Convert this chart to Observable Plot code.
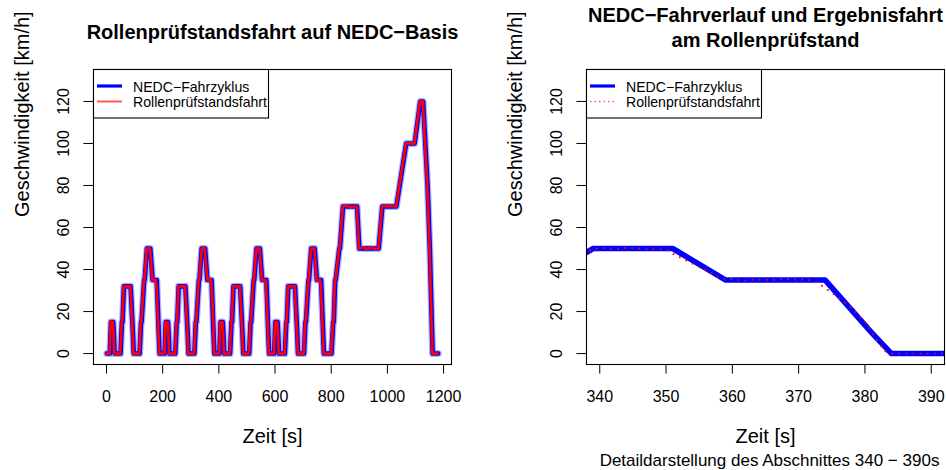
<!DOCTYPE html>
<html>
<head>
<meta charset="utf-8">
<script src="https://cdn.jsdelivr.net/npm/d3@7"></script>
<script src="https://cdn.jsdelivr.net/npm/@observablehq/plot@0.6"></script>
<style>
  body { margin: 0; background: #fff; }
  #chart { position: relative; width: 946px; height: 470px; overflow: hidden; background: #fff; }
  #chart > .panel { position: absolute; top: 0; width: 473px; height: 470px; }
  #left { left: 0; }
  #right { left: 473px; }
</style>
</head>
<body>
<div id="chart">
  <div class="panel" id="left"></div>
  <div class="panel" id="right"></div>
</div>
<script>
// NEDC target speed profile (corner points, time in s, speed in km/h):
// four ECE-15 urban cycles followed by the EUDC extra-urban part
const nedcTime = [
  1, 12, 16, 24, 26, 29, 50, 55, 57, 62, 86, 94, 97, 118, 123, 125, 134, 136, 144, 156, 164, 179, 186, 189,
  196, 207, 211, 219, 221, 224, 245, 250, 252, 257, 281, 289, 292, 313, 318, 320, 329, 331, 339, 351, 359, 374, 381, 384,
  391, 402, 406, 414, 416, 419, 440, 445, 447, 452, 476, 484, 487, 508, 513, 515, 524, 526, 534, 546, 554, 569, 576, 579,
  586, 597, 601, 609, 611, 614, 635, 640, 642, 647, 671, 679, 682, 703, 708, 710, 719, 721, 729, 741, 749, 764, 771, 774,
  781, 801, 807, 809, 814, 816, 829, 831, 842, 892, 900, 969, 982, 1032, 1067, 1097, 1117, 1127, 1143, 1151, 1161, 1181
];
const nedcSpeed = [
  0, 0, 15, 15, 10, 0, 0, 15, 15, 32, 32, 10, 0, 0, 15, 15, 35, 35, 50, 50, 35, 35, 10, 0,
  0, 0, 15, 15, 10, 0, 0, 15, 15, 32, 32, 10, 0, 0, 15, 15, 35, 35, 50, 50, 35, 35, 10, 0,
  0, 0, 15, 15, 10, 0, 0, 15, 15, 32, 32, 10, 0, 0, 15, 15, 35, 35, 50, 50, 35, 35, 10, 0,
  0, 0, 15, 15, 10, 0, 0, 15, 15, 32, 32, 10, 0, 0, 15, 15, 35, 35, 50, 50, 35, 35, 10, 0,
  0, 0, 15, 15, 35, 35, 50, 50, 70, 70, 50, 50, 70, 70, 100, 100, 120, 120, 80, 50, 0, 0
];

// Measured speed on the chassis dynamometer; 1 s samples in the 338–392 s detail window
const driveTime = [
  0, 11, 15, 23, 25, 28, 49, 54, 56, 61, 85, 93, 96, 117, 122, 124, 133, 135, 143, 155, 163, 176, 178, 185, 188,
  195, 206, 210, 218, 220, 223, 244, 249, 251, 256, 280, 288, 291, 312, 317, 319, 328, 330,
  338, 339, 340, 341, 342, 343, 344, 345, 346, 347, 348, 349, 350, 351, 352, 353, 354, 355, 356, 357, 358, 359,
  360, 361, 362, 363, 364, 365, 366, 367, 368, 369, 370, 371, 372, 373, 374, 375, 376, 377, 378, 379, 380,
  381, 382, 383, 384, 385, 386, 387, 388, 389, 390, 391, 392,
  401, 405, 413, 415, 418, 439, 444, 446, 451, 475, 483, 486, 507, 512, 514, 523, 525, 533, 545, 553, 566, 568, 575, 578,
  585, 596, 600, 608, 610, 613, 634, 639, 641, 646, 670, 678, 681, 702, 707, 709, 718, 720, 728, 740, 748, 761, 763, 770, 773,
  780, 800, 806, 808, 813, 815, 828, 830, 841, 855, 870, 891, 899, 915, 925, 940, 955, 968, 981, 1000, 1031,
  1066, 1096, 1116, 1126, 1142, 1150, 1160, 1180
];
const driveSpeed = [
  0, 0, 15.3, 15, 10, 0, 0, 15, 15.2, 32, 32, 10, 0, 0, 15, 15, 35, 35, 50, 50, 35, 35, 32, 10, 0,
  0, 0, 15, 15, 10, 0, 0, 15, 15, 32, 32, 10, 0, 0, 15, 15, 35, 35,
  48.6, 49.6, 50.1, 50.2, 50.0, 49.9, 50.3, 50.2, 50.0, 49.9, 50.0, 50.1, 49.4, 47.6, 46.0, 44.4, 42.8, 41.2, 39.6, 38.0, 36.3, 35.3,
  35.6, 35.0, 34.8, 35.1, 35.2, 35.1, 35.0, 35.2, 35.4, 35.2, 35.1, 35.2, 34.9, 33.4, 31.2, 29.0, 26.6, 24.2, 21.4, 18.4, 15.2,
  10.2, 5.4, 1.2, 0, 0, 0, 0, 0, 0, 0, 0, 0,
  0, 15, 15, 10, 0, 0, 15, 15, 32, 32, 10, 0, 0, 15, 15, 35, 35, 50, 50, 35, 35, 32, 10, 0,
  0, 0, 15, 15, 10, 0, 0, 15, 15, 32, 32, 10, 0, 0, 15, 15, 35, 35, 50, 50, 35, 35, 32, 10, 0,
  0, 0, 15, 15, 35, 35, 50, 50, 70, 70.4, 69.7, 70, 50, 50.6, 49.6, 50.4, 49.8, 50, 70, 70.3, 70,
  100, 100, 120, 120, 80, 50, 0, 0
];

// Axis ticks
const xTicksFull = [0, 200, 400, 600, 800, 1000, 1200];
const xTicksDetail = [340, 350, 360, 370, 380, 390];
const yTicks = [0, 20, 40, 60, 80, 100, 120];

// Texts
const titleFull = "Rollenprüfstandsfahrt auf NEDC−Basis";
const titleDetail = "NEDC−Fahrverlauf und Ergebnisfahrt\nam Rollenprüfstand";
const xLabel = "Zeit [s]";
const yLabel = "Geschwindigkeit [km/h]";
const subDetail = "Detaildarstellung des Abschnittes 340 − 390s";
const legendLabels = ["NEDC−Fahrzyklus", "Rollenprüfstandsfahrt"];

const nedc = nedcTime.map((t, i) => ({t, v: nedcSpeed[i]}));
const drive = driveTime.map((t, i) => ({t, v: driveSpeed[i]}));

const FONT = '"Liberation Sans", Arial, Helvetica, sans-serif';
const yDomain = [-5.2, 135.2];

function axes(xTicks) {
  return [
    Plot.frame({stroke: "black", strokeWidth: 1.1}),
    Plot.axisX({ticks: xTicks, tickSize: 9.6, tickPadding: 16.5, label: null, fontSize: 16, tickFormat: d => String(d)}),
    // y tick marks; the labels are drawn rotated, parallel to the axis
    Plot.axisY({ticks: yTicks, tickSize: 9.6, label: null, tickFormat: () => ""}),
    Plot.text(yTicks, {y: d => d, text: d => String(d), frameAnchor: "left", dx: -24.5, rotate: -90,
                       textAnchor: "middle", lineAnchor: "bottom", fontSize: 16}),
    Plot.text([xLabel], {text: d => d, frameAnchor: "bottom", dy: 78, lineAnchor: "bottom", fontSize: 20}),
    Plot.text([yLabel], {text: d => d, frameAnchor: "left", dx: -65, rotate: -90, lineAnchor: "bottom", fontSize: 20})
  ];
}

// Overview of the complete cycle
const leftPlot = Plot.plot({
  width: 473, height: 470,
  marginLeft: 93, marginRight: 22, marginTop: 69, marginBottom: 106,
  style: {fontFamily: FONT, fontSize: "16px", background: "white", color: "black", overflow: "visible"},
  x: {domain: [-46.2, 1228.2]},
  y: {domain: yDomain},
  marks: [
    Plot.line(nedc, {x: "t", y: "v", stroke: "blue", strokeWidth: 7, strokeOpacity: 0.3, clip: true}),
    Plot.line(nedc, {x: "t", y: "v", stroke: "blue", strokeWidth: 4.6, clip: true}),
    Plot.line(drive, {x: "t", y: "v", stroke: "red", strokeWidth: 2.7, clip: true}),
    ...axes(xTicksFull),
    Plot.text([titleFull], {text: d => d, frameAnchor: "top", dy: -30.7, lineAnchor: "bottom", fontSize: 20, fontWeight: "bold"})
  ]
});

// Detail of the 340–390 s section
const rightPlot = Plot.plot({
  width: 473, height: 470,
  marginLeft: 113, marginRight: 2, marginTop: 69, marginBottom: 106,
  style: {fontFamily: FONT, fontSize: "16px", background: "white", color: "black", overflow: "visible"},
  x: {domain: [338, 392]},
  y: {domain: yDomain},
  marks: [
    Plot.line(nedc, {x: "t", y: "v", stroke: "blue", strokeWidth: 5.6, clip: true}),
    Plot.line(drive, {x: "t", y: "v", stroke: "red", strokeWidth: 1.8, strokeDasharray: "1.8 5.3", strokeLinecap: "butt", clip: true}),
    ...axes(xTicksDetail),
    Plot.text([titleDetail], {text: d => d, frameAnchor: "top", dy: -22.3, lineAnchor: "bottom", lineHeight: 1.25, fontSize: 20, fontWeight: "bold"}),
    Plot.text([subDetail], {text: d => d, frameAnchor: "bottom", dx: 4, dy: 101, lineAnchor: "bottom", fontSize: 17})
  ]
});

document.getElementById("left").appendChild(leftPlot);
document.getElementById("right").appendChild(rightPlot);

// Legend box in the top-left corner of each panel
function legend(svg, x0, redStyle) {
  const g = d3.select(svg).append("g")
    .attr("font-family", FONT).attr("font-size", 14.1).attr("text-anchor", "start");
  g.append("rect").attr("x", x0 + 0.5).attr("y", 69.5).attr("width", 175).attr("height", 48.5)
    .attr("fill", "white").attr("stroke", "black").attr("stroke-width", 1.1);
  g.append("line").attr("x1", x0 + 4).attr("x2", x0 + 29).attr("y1", 86).attr("y2", 86)
    .attr("stroke", "blue").attr("stroke-width", 3.2);
  const red = g.append("line").attr("x1", x0 + 4).attr("x2", x0 + 29).attr("y1", 101.5).attr("y2", 101.5);
  redStyle(red);
  g.append("text").attr("x", x0 + 40).attr("y", 91.5).attr("text-anchor", "start").text(legendLabels[0]);
  g.append("text").attr("x", x0 + 40).attr("y", 106.7).attr("text-anchor", "start").text(legendLabels[1]);
}
legend(leftPlot, 93, l => l.attr("stroke", "#ff5a5a").attr("stroke-width", 2));
legend(rightPlot, 113, l => l.attr("stroke", "#ff6060").attr("stroke-width", 1.5).attr("stroke-dasharray", "1.5 3"));
</script>
</body>
</html>
